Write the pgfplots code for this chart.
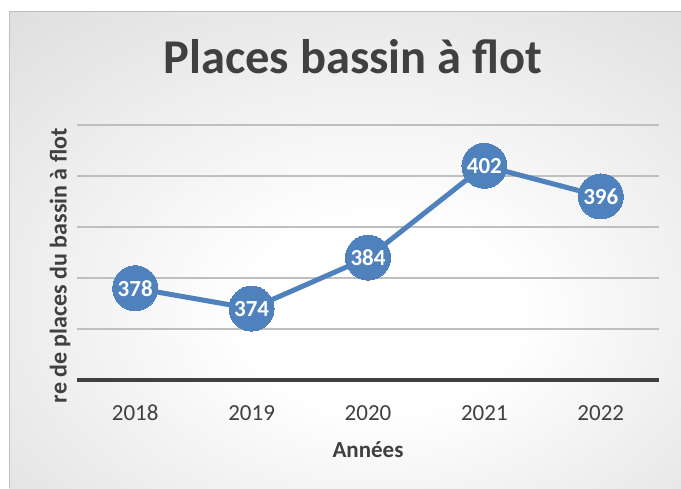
\documentclass[border=0pt]{standalone}
\usepackage{pgfplots}
\pgfplotsset{compat=1.18}
\usepackage{fontspec}
\setmainfont{Carlito}
\definecolor{txt}{HTML}{404040}
\definecolor{lineblue}{HTML}{4F81BD}
\definecolor{gridc}{HTML}{BFBFBF}
\definecolor{bgedge}{HTML}{C2C2C2}
\definecolor{bgmid}{HTML}{D8D8D8}
\pgfdeclareradialshading{bgshade}{\pgfpoint{3bp}{-8bp}}{color(0bp)=(white); color(10bp)=(white); color(45bp)=(bgmid); color(75bp)=(bgedge)}
\begin{document}
\begin{tikzpicture}
\useasboundingbox (0,0) rectangle (681pt,488pt);
\fill[white] (0,0) rectangle (681pt,488pt);
\shade[shading=bgshade] (9pt,0pt) rectangle (681pt,476pt);
\draw[gridc, line width=1pt] (9pt,0pt) -- (9pt,476pt) -- (681pt,476pt);
\begin{axis}[
  at={(77pt,108pt)}, anchor=south west,
  scale only axis, width=582pt, height=255pt,
  xmin=2017.5, xmax=2022.5, ymin=360, ymax=410,
  xtick={2018,2019,2020,2021,2022},
  xticklabels={2018,2019,2020,2021,2022},
  ytick={360,370,380,390,400,410},
  yticklabels={},
  ymajorgrids,
  grid style={gridc, line width=1.5pt},
  axis x line*=bottom, axis y line*=left,
  y axis line style={draw=none},
  x axis line style={draw=txt, line width=3.5pt, -},
  major tick length=0pt,
  tick style={draw=none},
  xticklabel style={font=\fontsize{23}{27}\selectfont, text=txt, anchor=base, yshift=-40pt},
  title={Places bassin à flot},
  title style={at={(axis description cs:0.474,1.18)}, anchor=base, font=\fontsize{48.5}{56}\selectfont\bfseries, text=txt},
  xlabel={Années},
  xlabel style={at={(axis description cs:0.5,-0.302)}, anchor=base, font=\fontsize{23}{27}\selectfont\bfseries, text=txt},
  ylabel={re de places du bassin à flot},
  ylabel style={at={(axis description cs:-0.029,0.448)}, anchor=center, font=\fontsize{24}{28}\selectfont\bfseries, text=txt},
  clip=false,
]
\addplot[color=lineblue, line width=5pt, mark=*, mark size=22.5pt,
  mark options={fill=lineblue, draw=lineblue, line width=0pt},
  nodes near coords,
  every node near coord/.append style={anchor=center, text=white, font=\fontsize{23}{27}\selectfont\bfseries, /pgf/number format/assume math mode=true},
] coordinates {
  (2018,378) (2019,374) (2020,384) (2021,402) (2022,396)
};
\end{axis}
\end{tikzpicture}
\end{document}
